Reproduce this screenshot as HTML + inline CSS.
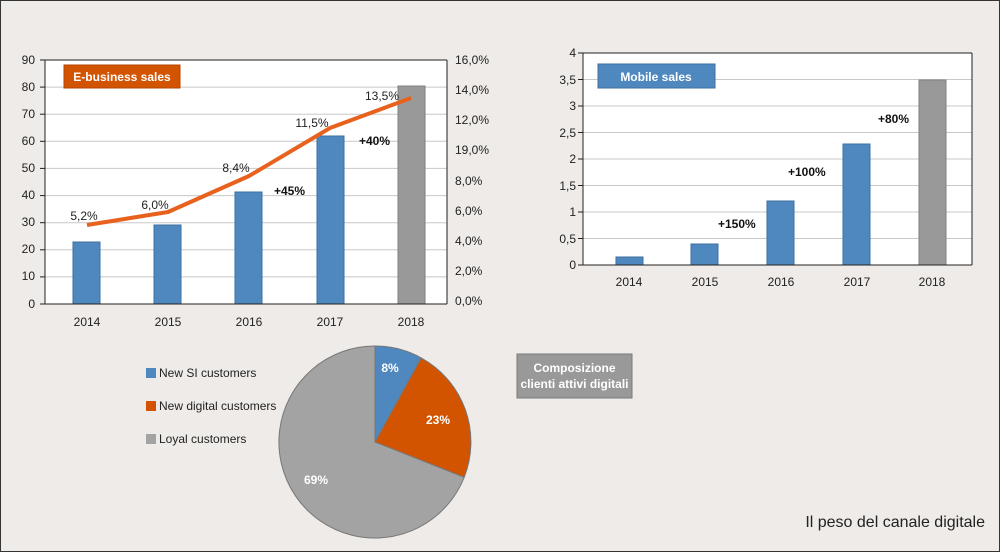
<!DOCTYPE html>
<html><head><meta charset="utf-8"><style>
html,body{margin:0;padding:0;background:#eeebe8;}
svg{display:block;font-family:"Liberation Sans Narrow","Liberation Sans",sans-serif;}
</style></head><body>
<svg width="1000" height="552" viewBox="0 0 1000 552" xmlns="http://www.w3.org/2000/svg">
<rect x="0.5" y="0.5" width="999" height="551" fill="#eeebe8" stroke="#333" stroke-width="1"/>
<!-- Left chart -->
<rect x="45" y="60" width="402" height="244" fill="#fff"/>
<g stroke="#c8c8c8" stroke-width="1">
<line x1="45" y1="87.1" x2="447" y2="87.1"/><line x1="45" y1="114.2" x2="447" y2="114.2"/>
<line x1="45" y1="141.3" x2="447" y2="141.3"/><line x1="45" y1="168.4" x2="447" y2="168.4"/>
<line x1="45" y1="195.6" x2="447" y2="195.6"/><line x1="45" y1="222.7" x2="447" y2="222.7"/>
<line x1="45" y1="249.8" x2="447" y2="249.8"/><line x1="45" y1="276.9" x2="447" y2="276.9"/>
</g>
<g fill="#4f88bf" stroke="#3d6f9f" stroke-width="1">
<rect x="73" y="242" width="27" height="62"/><rect x="154" y="225" width="27" height="79"/>
<rect x="235" y="192" width="27" height="112"/><rect x="317" y="136" width="27" height="168"/>
</g>
<rect x="398" y="86" width="27" height="218" fill="#999" stroke="#808080"/>
<g stroke="#222" stroke-width="1" fill="none">
<line x1="45" y1="60" x2="447" y2="60"/><line x1="45" y1="60" x2="45" y2="304"/><line x1="447" y1="60" x2="447" y2="304"/><line x1="40" y1="304" x2="447" y2="304"/>
<line x1="40" y1="60" x2="45" y2="60"/><line x1="40" y1="87.1" x2="45" y2="87.1"/><line x1="40" y1="114.2" x2="45" y2="114.2"/><line x1="40" y1="141.3" x2="45" y2="141.3"/><line x1="40" y1="168.4" x2="45" y2="168.4"/><line x1="40" y1="195.6" x2="45" y2="195.6"/><line x1="40" y1="222.7" x2="45" y2="222.7"/><line x1="40" y1="249.8" x2="45" y2="249.8"/><line x1="40" y1="276.9" x2="45" y2="276.9"/>
</g>
<polyline points="87,225 168,212 249,176 330,128 411,98" fill="none" stroke="#e8621e" stroke-width="4" stroke-linejoin="round"/>
<g font-size="12" fill="#222" text-anchor="end">
<text x="35" y="64">90</text><text x="35" y="91">80</text><text x="35" y="118">70</text><text x="35" y="145">60</text><text x="35" y="172">50</text><text x="35" y="199">40</text><text x="35" y="226">30</text><text x="35" y="253">20</text><text x="35" y="280">10</text><text x="35" y="308">0</text>
</g>
<g font-size="12" fill="#222">
<text x="455" y="64">16,0%</text><text x="455" y="94">14,0%</text><text x="455" y="124">12,0%</text><text x="455" y="154">19,0%</text><text x="455" y="185">8,0%</text><text x="455" y="215">6,0%</text><text x="455" y="245">4,0%</text><text x="455" y="275">2,0%</text><text x="455" y="305">0,0%</text>
</g>
<g font-size="12" fill="#222" text-anchor="middle">
<text x="87" y="326">2014</text><text x="168" y="326">2015</text><text x="249" y="326">2016</text><text x="330" y="326">2017</text><text x="411" y="326">2018</text>
<text x="84" y="220">5,2%</text><text x="155" y="209">6,0%</text><text x="236" y="172">8,4%</text><text x="312" y="127">11,5%</text><text x="382" y="100">13,5%</text>
</g>
<g font-size="12" font-weight="bold" fill="#111">
<text x="274" y="195">+45%</text><text x="359" y="145">+40%</text>
</g>
<rect x="64" y="65" width="116" height="23" fill="#d35400" stroke="#b54500"/>
<text x="122" y="81" font-size="12" font-weight="bold" fill="#fff" text-anchor="middle">E-business sales</text>
<!-- Right chart -->
<rect x="583" y="53" width="389" height="212" fill="#fff"/>
<g stroke="#c8c8c8" stroke-width="1">
<line x1="583" y1="79.5" x2="972" y2="79.5"/><line x1="583" y1="106" x2="972" y2="106"/><line x1="583" y1="132.5" x2="972" y2="132.5"/><line x1="583" y1="159" x2="972" y2="159"/><line x1="583" y1="185.5" x2="972" y2="185.5"/><line x1="583" y1="212" x2="972" y2="212"/><line x1="583" y1="238.5" x2="972" y2="238.5"/>
</g>
<g fill="#4f88bf" stroke="#3d6f9f" stroke-width="1">
<rect x="616" y="257" width="27" height="8"/><rect x="691" y="244" width="27" height="21"/><rect x="767" y="201" width="27" height="64"/><rect x="843" y="144" width="27" height="121"/>
</g>
<rect x="919" y="80" width="27" height="185" fill="#999" stroke="#808080"/>
<g stroke="#222" stroke-width="1">
<line x1="583" y1="53" x2="972" y2="53"/><line x1="583" y1="53" x2="583" y2="265"/><line x1="972" y1="53" x2="972" y2="265"/><line x1="578" y1="265" x2="972" y2="265"/>
<line x1="578" y1="53" x2="583" y2="53"/><line x1="578" y1="79.5" x2="583" y2="79.5"/><line x1="578" y1="106" x2="583" y2="106"/><line x1="578" y1="132.5" x2="583" y2="132.5"/><line x1="578" y1="159" x2="583" y2="159"/><line x1="578" y1="185.5" x2="583" y2="185.5"/><line x1="578" y1="212" x2="583" y2="212"/><line x1="578" y1="238.5" x2="583" y2="238.5"/>
</g>
<g font-size="12" fill="#222" text-anchor="end">
<text x="576" y="57">4</text><text x="576" y="84">3,5</text><text x="576" y="110">3</text><text x="576" y="137">2,5</text><text x="576" y="163">2</text><text x="576" y="190">1,5</text><text x="576" y="216">1</text><text x="576" y="243">0,5</text><text x="576" y="269">0</text>
</g>
<g font-size="12" fill="#222" text-anchor="middle">
<text x="629" y="286">2014</text><text x="705" y="286">2015</text><text x="781" y="286">2016</text><text x="857" y="286">2017</text><text x="932" y="286">2018</text>
</g>
<g font-size="12" font-weight="bold" fill="#111">
<text x="718" y="228">+150%</text><text x="788" y="176">+100%</text><text x="878" y="123">+80%</text>
</g>
<rect x="598" y="64" width="117" height="24" fill="#4f88bf" stroke="#3d6f9f"/>
<text x="656" y="81" font-size="12" font-weight="bold" fill="#fff" text-anchor="middle">Mobile sales</text>
<!-- Pie -->
<path d="M375,442 L375,346 A96,96 0 0 1 421.2,357.9 Z" fill="#4f88bf" stroke="#777" stroke-width="1"/>
<path d="M375,442 L421.2,357.9 A96,96 0 0 1 464.2,477.3 Z" fill="#d35400" stroke="#777" stroke-width="1"/>
<path d="M375,442 L464.2,477.3 A96,96 0 1 1 375,346 Z" fill="#a3a3a3" stroke="#777" stroke-width="1"/>
<g font-size="12" font-weight="bold" fill="#fff" text-anchor="middle">
<text x="390" y="372">8%</text><text x="438" y="424">23%</text><text x="316" y="484">69%</text>
</g>
<rect x="146" y="368" width="10" height="10" fill="#4f88bf"/>
<rect x="146" y="401" width="10" height="10" fill="#d35400"/>
<rect x="146" y="434" width="10" height="10" fill="#a3a3a3"/>
<g font-size="12" fill="#222">
<text x="159" y="377">New SI customers</text><text x="159" y="410">New digital customers</text><text x="159" y="443">Loyal customers</text>
</g>
<rect x="517" y="354" width="115" height="44" fill="#999" stroke="#7a7a7a"/>
<g font-size="12" font-weight="bold" fill="#fff" text-anchor="middle">
<text x="574.5" y="372">Composizione</text><text x="574.5" y="388">clienti attivi digitali</text>
</g>
<text x="985" y="527" font-size="16" fill="#222" text-anchor="end">Il peso del canale digitale</text>
</svg>
</body></html>
